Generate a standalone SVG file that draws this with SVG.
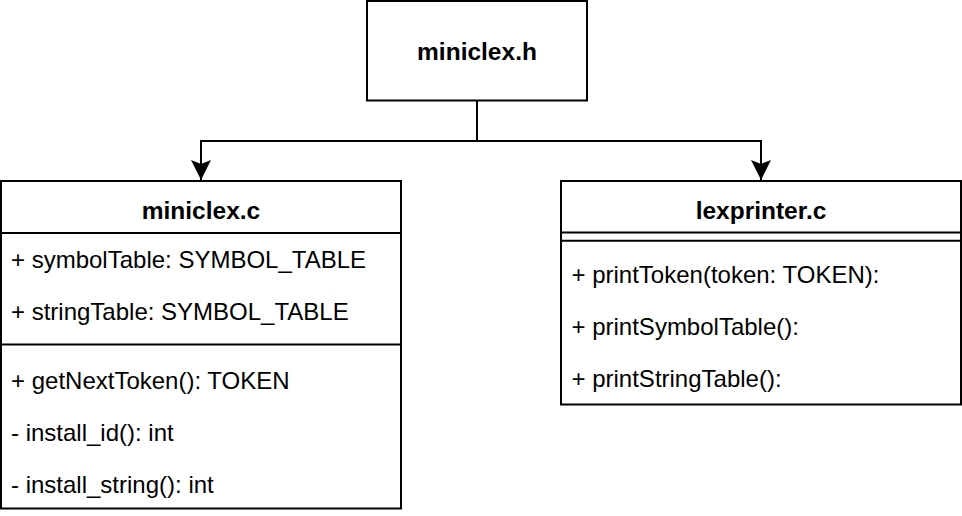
<svg xmlns="http://www.w3.org/2000/svg" width="962" height="516" viewBox="0 0 962 516">
<style>
.box{fill:#fff;stroke:#000;stroke-width:2}
.ln{stroke:#000;stroke-width:2;fill:none}
.t{font-family:"Liberation Sans",Arial,Helvetica,sans-serif;font-size:24px;fill:#000}
.h{font-family:"Liberation Sans",Arial,Helvetica,sans-serif;font-size:24.5px;font-weight:bold;fill:#000;text-anchor:middle}
</style>
<rect width="962" height="516" fill="#fff"/>
<g id="connectors">
<path class="ln" d="M477,101 V141 H201 V180"/>
<path class="ln" d="M477,141 H761 V180"/>
<path d="M201,180 L191,160 L201,164 L211,160 Z" fill="#000"/>
<path d="M761,180 L751,160 L761,164 L771,160 Z" fill="#000"/>
</g>
<g id="miniclex_h">
<rect class="box" x="367" y="1" width="220" height="99.5"/>
<text class="h" x="477" y="60">miniclex.h</text>
</g>
<g id="miniclex_c">
<rect class="box" x="1" y="181" width="400" height="327.5"/>
<line class="ln" x1="1" y1="233" x2="401" y2="233"/>
<line class="ln" x1="1" y1="344.5" x2="401" y2="344.5"/>
<text class="h" x="201" y="219">miniclex.c</text>
<text class="t" x="11" y="268">+ symbolTable: SYMBOL_TABLE</text>
<text class="t" x="11" y="320">+ stringTable: SYMBOL_TABLE</text>
<text class="t" x="11" y="389">+ getNextToken(): TOKEN</text>
<text class="t" x="11" y="441">- install_id(): int</text>
<text class="t" x="11" y="493">- install_string(): int</text>
</g>
<g id="lexprinter_c">
<rect class="box" x="561" y="181" width="400" height="223.5"/>
<line class="ln" x1="561" y1="232.5" x2="961" y2="232.5"/>
<line class="ln" x1="561" y1="240.7" x2="961" y2="240.7"/>
<text class="h" x="761" y="219">lexprinter.c</text>
<text class="t" x="571.5" y="283">+ printToken(token: TOKEN):</text>
<text class="t" x="571.5" y="335">+ printSymbolTable():</text>
<text class="t" x="571.5" y="387">+ printStringTable():</text>
</g>
</svg>
